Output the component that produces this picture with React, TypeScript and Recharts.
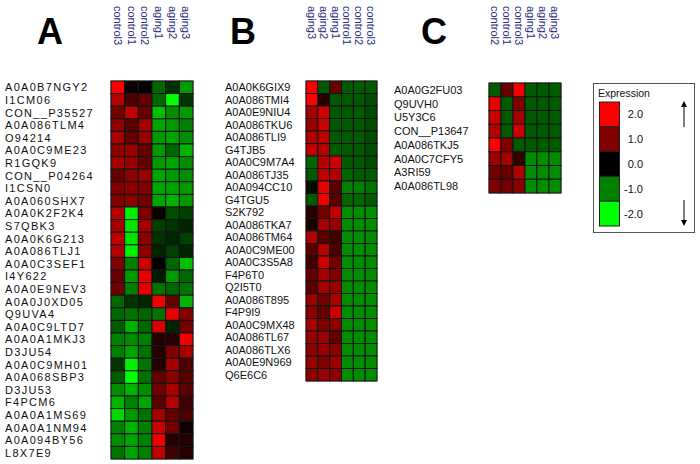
import { ScatterChart, Scatter, XAxis, YAxis, ReferenceArea } from 'recharts';

// Panel A
const A_COLS = ['control3', 'control1', 'control2', 'aging1', 'aging2', 'aging3'];
const A_ROWS = [
  'A0A0B7NGY2', 'I1CM06', 'CON__P35527', 'A0A086TLM4', 'O94214', 'A0A0C9ME23', 'R1GQK9',
  'CON__P04264', 'I1CSN0', 'A0A060SHX7', 'A0A0K2F2K4', 'S7QBK3', 'A0A0K6G213', 'A0A086TLJ1',
  'A0A0C3SEF1', 'I4Y622', 'A0A0E9NEV3', 'A0A0J0XD05', 'Q9UVA4', 'A0A0C9LTD7', 'A0A0A1MKJ3',
  'D3JU54', 'A0A0C9MH01', 'A0A068SBP3', 'D3JU53', 'F4PCM6', 'A0A0A1MS69', 'A0A0A1NM94',
  'A0A094BY56', 'L8X7E9',
];
const A_VALUES = [
  [2.0, 0.1, 0.0, -0.8, -0.4, -1.2],
  [1.4, 0.6, 0.8, -0.8, -2.0, -0.4],
  [0.9, 1.5, 0.8, -1.5, -1.1, -1.2],
  [1.1, 0.7, 1.3, -1.3, -1.2, -1.0],
  [1.3, 0.8, 1.2, -1.2, -1.3, -1.1],
  [1.1, 1.2, 0.8, -1.2, -0.8, -1.4],
  [1.3, 1.2, 0.8, -1.2, -1.3, -1.1],
  [0.8, 1.1, 1.2, -1.3, -1.2, -1.1],
  [1.0, 1.1, 1.0, -1.3, -1.3, -1.2],
  [1.0, 1.1, 0.9, -1.3, -1.4, -1.2],
  [1.4, -1.9, 1.0, 0.1, -0.6, -0.5],
  [1.3, -1.8, 1.3, -0.5, -0.4, -0.3],
  [1.5, -1.8, 1.1, -0.4, -0.3, -0.5],
  [1.4, -1.9, 1.1, -0.3, -0.5, -0.3],
  [1.0, -1.0, 1.6, 0.0, -0.8, -1.5],
  [0.8, -1.2, 1.8, -0.2, -1.2, -0.8],
  [0.9, -1.0, 1.8, -0.9, -0.8, -0.9],
  [-0.8, -0.4, -0.3, 1.9, 0.8, -1.4],
  [-0.8, -0.9, -0.8, -0.9, 1.8, 1.0],
  [-0.7, -1.4, -0.8, 1.7, -0.3, 0.9],
  [-1.0, -1.1, -1.0, 0.3, 0.3, 1.9],
  [-1.0, -1.3, -0.9, 0.3, 1.0, 1.3],
  [-0.4, -1.9, -0.9, 0.3, 1.3, 0.6],
  [-0.7, -2.0, -0.9, 0.8, 1.1, 0.7],
  [-1.1, -1.4, -1.1, 0.9, 1.3, 0.7],
  [-1.4, -1.0, -1.3, 0.7, 1.4, 0.5],
  [-1.7, -1.2, -0.9, 1.3, 0.8, 0.6],
  [-1.0, -1.4, -1.0, 1.6, 0.9, 0.1],
  [-1.1, -1.3, -1.0, 1.9, 0.3, 0.3],
  [-0.9, -1.3, -1.0, 1.5, 0.5, 0.3],
];

// Panel B
const B_COLS = ['aging3', 'aging2', 'aging1', 'control1', 'control2', 'control3'];
const B_ROWS = [
  'A0A0K6GIX9', 'A0A086TMI4', 'A0A0E9NIU4', 'A0A086TKU6', 'A0A086TLI9', 'G4TJB5',
  'A0A0C9M7A4', 'A0A086TJ35', 'A0A094CC10', 'G4TGU5', 'S2K792', 'A0A086TKA7', 'A0A086TM64',
  'A0A0C9ME00', 'A0A0C3S5A8', 'F4P6T0', 'Q2I5T0', 'A0A086T895', 'F4P9I9', 'A0A0C9MX48',
  'A0A086TL67', 'A0A086TLX6', 'A0A0E9N969', 'Q6E6C6',
];
const B_VALUES = [
  [2.0, -0.7, 0.8, -0.7, -0.7, -0.7],
  [2.0, 0.3, -0.7, -0.7, -0.7, -0.6],
  [1.3, 1.6, -0.7, -0.7, -0.7, -0.6],
  [1.2, 1.6, -0.7, -0.7, -0.7, -0.6],
  [1.4, 1.5, -0.7, -0.7, -0.7, -0.6],
  [1.5, 1.4, -0.7, -0.7, -0.7, -0.6],
  [-0.8, 1.4, 1.6, -0.7, -0.7, -0.6],
  [-0.7, 1.5, 1.4, -0.8, -0.7, -0.7],
  [-0.1, 1.8, 0.7, -1.0, -1.0, -0.9],
  [-0.7, 1.9, 0.7, -0.8, -0.8, -0.7],
  [0.3, 0.9, 1.5, -1.1, -1.1, -1.1],
  [0.2, 1.3, 1.2, -1.1, -1.1, -1.1],
  [1.4, 0.7, 0.5, -1.1, -1.1, -1.1],
  [0.7, 1.4, 0.6, -1.1, -1.1, -1.1],
  [0.5, 1.6, 0.9, -1.1, -1.1, -1.1],
  [0.8, 1.3, 1.0, -1.1, -1.1, -1.1],
  [0.7, 1.3, 1.2, -1.1, -1.1, -1.1],
  [1.2, 0.9, 1.3, -1.1, -1.1, -1.1],
  [1.1, 0.8, 1.6, -1.1, -1.1, -1.1],
  [1.3, 1.0, 1.1, -1.1, -1.1, -1.1],
  [1.2, 1.2, 0.8, -1.1, -1.1, -1.1],
  [1.1, 1.2, 1.1, -1.1, -1.1, -1.1],
  [1.2, 1.0, 1.2, -1.1, -1.1, -1.1],
  [1.1, 1.2, 1.1, -1.1, -1.1, -1.1],
];

// Panel C
const C_COLS = ['control2', 'control1', 'control3', 'aging1', 'aging2', 'aging3'];
const C_ROWS = [
  'A0A0G2FU03', 'Q9UVH0', 'U5Y3C6', 'CON__P13647', 'A0A086TKJ5', 'A0A0C7CFY5', 'A3RI59', 'A0A086TL98',
];
const C_VALUES = [
  [-0.7, 0.8, 1.9, -0.7, -0.7, -0.7],
  [1.8, -0.7, 1.0, -0.7, -0.7, -0.7],
  [1.6, -0.7, 1.3, -0.7, -0.7, -0.7],
  [1.4, -0.7, 1.6, -0.7, -0.7, -0.7],
  [2.0, 1.0, -0.7, -0.7, -0.7, -0.7],
  [1.2, 1.3, 0.4, -1.1, -1.1, -1.1],
  [0.9, 0.8, 1.4, -1.1, -1.1, -1.1],
  [1.0, 0.9, 1.1, -1.1, -1.1, -1.1],
];

const LEGEND_VALUES = [2, 1, 0, -1, -2];

// green -> black -> red scale
const STOPS: [number, number[]][] = [
  [-2, [0, 255, 0]],
  [-1, [0, 128, 0]],
  [0, [0, 0, 0]],
  [1, [128, 0, 0]],
  [2, [255, 0, 0]],
];

function colorFor(v: number) {
  const t = Math.max(-2, Math.min(2, v));
  for (let i = 0; i < STOPS.length - 1; i++) {
    const [a, ca] = STOPS[i];
    const [b, cb] = STOPS[i + 1];
    if (t >= a && t <= b) {
      const f = (t - a) / (b - a);
      const c = ca.map((x, k) => Math.round(x + (cb[k] - x) * f));
      return `rgb(${c[0]},${c[1]},${c[2]})`;
    }
  }
  return '#000';
}

const FONT = '"Liberation Sans", Arial, sans-serif';
const HEIGHT = 464;

interface PanelProps {
  cols: string[];
  rows: string[];
  values: number[][];
  left: number;
  width: number;
  gridLeft: number;
  gridRight: number;
  gridTop: number;
  gridBottom: number;
  labelX: number;
  labelSpacing: number;
}

function HeatPanel({ cols, rows, values, left, width, gridLeft, gridRight, gridTop, gridBottom, labelX, labelSpacing }: PanelProps) {
  const points = values.flatMap((row, r) => row.map((v, c) => ({ x: c, y: r, v })));
  const cw = (gridRight - gridLeft) / cols.length;
  const ch = (gridBottom - gridTop) / rows.length;

  const cellShape = (p: any) => (
    <rect
      x={p.cx - cw / 2}
      y={p.cy - ch / 2}
      width={cw}
      height={ch}
      fill={colorFor(p.payload.v)}
      stroke="#151515"
      strokeWidth={1}
    />
  );

  const colTick = (p: any) => (
    <text
      transform={`translate(${p.x},6) rotate(90)`}
      textAnchor="start"
      dominantBaseline="central"
      fontSize={11}
      fontFamily={FONT}
      fill="#2b2b80"
    >
      {cols[p.payload.value]}
    </text>
  );

  const rowTick = (p: any) => (
    <text
      x={labelX}
      y={p.y}
      textAnchor="start"
      dominantBaseline="central"
      fontSize={11}
      fontFamily={FONT}
      letterSpacing={labelSpacing}
      fill="#111"
    >
      {rows[p.payload.value]}
    </text>
  );

  return (
    <div style={{ position: 'absolute', left, top: 0 }}>
      <ScatterChart
        width={width}
        height={HEIGHT}
        margin={{ top: 0, right: width - gridRight, bottom: HEIGHT - gridBottom, left: 0 }}
      >
        <XAxis
          type="number"
          dataKey="x"
          orientation="top"
          height={gridTop}
          domain={[-0.5, cols.length - 0.5]}
          ticks={cols.map((_, i) => i)}
          interval={0}
          axisLine={false}
          tickLine={false}
          tick={colTick}
        />
        <YAxis
          type="number"
          dataKey="y"
          width={gridLeft}
          reversed
          domain={[-0.5, rows.length - 0.5]}
          ticks={rows.map((_, i) => i)}
          interval={0}
          axisLine={false}
          tickLine={false}
          tick={rowTick}
        />
        <Scatter data={points} shape={cellShape} isAnimationActive={false} />
        <ReferenceArea
          x1={-0.5}
          x2={cols.length - 0.5}
          y1={-0.5}
          y2={rows.length - 0.5}
          fill="none"
          stroke="#7a7a7a"
          strokeWidth={1}
        />
      </ScatterChart>
    </div>
  );
}

function Overlay() {
  const swTop = 102;
  const swH = 24.8;
  return (
    <svg width={700} height={464} style={{ position: 'absolute', left: 0, top: 0, pointerEvents: 'none' }}>
      <defs>
        <marker id="ah" markerWidth="6" markerHeight="6" refX="3" refY="3" orient="auto">
          <path d="M0,0 L6,3 L0,6 z" fill="#000" />
        </marker>
      </defs>
      <g fontFamily={FONT} fontWeight="bold" fontSize={36} textAnchor="middle" fill="#000">
        <text x={50} y={44}>A</text>
        <text x={243} y={44}>B</text>
        <text x={434} y={44}>C</text>
      </g>
      <rect x={593.5} y={83.5} width={101} height={149} fill="#fff" stroke="#555" />
      <text x={598} y={97} fontFamily={FONT} fontSize={10.5} fill="#111">Expression</text>
      {LEGEND_VALUES.map((v, i) => (
        <g key={v}>
          <rect x={599.5} y={swTop + i * swH} width={20} height={swH} fill={colorFor(v)} stroke="#222" />
          <text
            x={643}
            y={swTop + i * swH + swH / 2}
            textAnchor="end"
            dominantBaseline="central"
            fontFamily={FONT}
            fontSize={11}
            fill="#111"
          >
            {v.toFixed(1)}
          </text>
        </g>
      ))}
      <line x1={684} y1={127} x2={684} y2={104} stroke="#000" strokeWidth={1} markerEnd="url(#ah)" />
      <line x1={684} y1={200} x2={684} y2={223} stroke="#000" strokeWidth={1} markerEnd="url(#ah)" />
    </svg>
  );
}

export default function App() {
  return (
    <div style={{ position: 'absolute', left: 0, top: 0, width: 700, height: 464, background: '#fff' }}>
      <HeatPanel
        cols={A_COLS} rows={A_ROWS} values={A_VALUES}
        left={0} width={200} gridLeft={111} gridRight={193} gridTop={81} gridBottom={459}
        labelX={5} labelSpacing={1.3}
      />
      <HeatPanel
        cols={B_COLS} rows={B_ROWS} values={B_VALUES}
        left={220} width={170} gridLeft={86} gridRight={157} gridTop={81} gridBottom={381}
        labelX={5} labelSpacing={0}
      />
      <HeatPanel
        cols={C_COLS} rows={C_ROWS} values={C_VALUES}
        left={390} width={180} gridLeft={99} gridRight={171} gridTop={83} gridBottom={193}
        labelX={4} labelSpacing={0}
      />
      <Overlay />
    </div>
  );
}
